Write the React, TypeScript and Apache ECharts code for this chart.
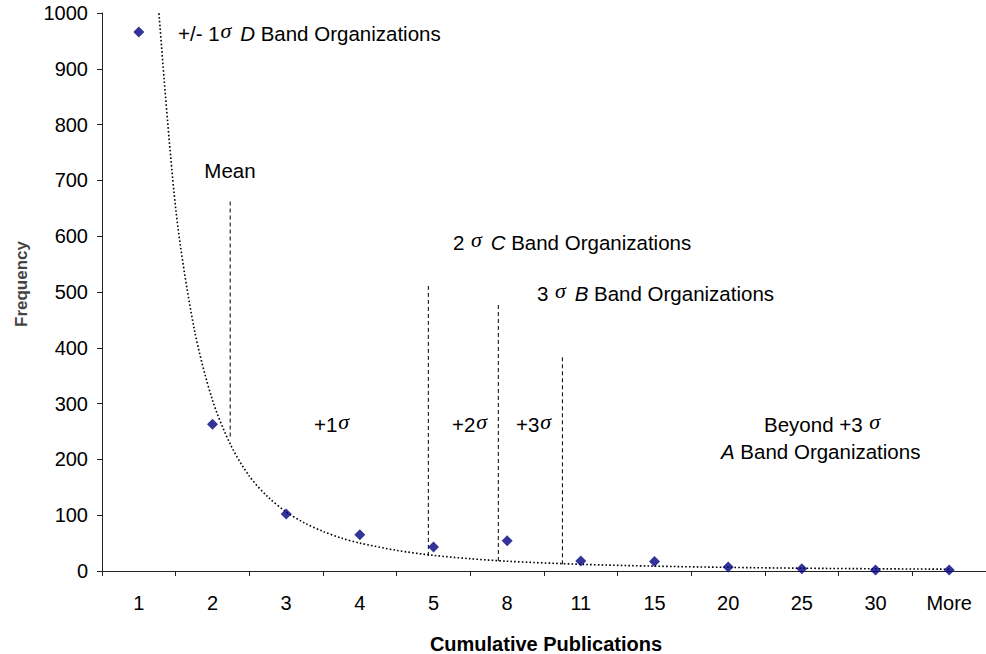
import React, { useEffect, useRef } from "react";
import * as echarts from "echarts";

const categories = ["1", "2", "3", "4", "5", "8", "11", "15", "20", "25", "30", "More"];
const frequency = [966, 263, 102, 65, 43, 54, 18, 17, 7, 4, 2, 2];

// dotted trend curve (category index -> frequency)
const trendX = [1.25, 1.5, 1.75, 2, 2.25, 2.5, 2.75, 3, 3.25, 3.5, 3.75, 4, 4.5, 5, 5.5, 6, 7, 8, 9, 10, 11, 12];
const trendY = [1040, 650, 435, 306, 225, 170, 133, 106, 86, 71, 59, 50, 37, 28, 22, 17.5, 12, 8.7, 6.5, 5, 4, 3.2];

// dashed boundary markers: position (category index), bottom value, top value
const markerNames = ["Mean", "+1σ", "+2σ", "+3σ"];
const markerX = [2.24, 4.93, 5.88, 6.75];
const markerBottom = [241, 27, 18, 12];
const markerTop = [662, 512, 477, 384];

const yMin = 0;
const yMax = 1000;
const yInterval = 100;

const FONT = "'Liberation Sans', Arial, Helvetica, sans-serif";
const SERIF = "'Liberation Serif', 'Times New Roman', serif";
const FS = 20;
const AFS = 20.5;

const rich = {
  n: { fontSize: AFS, fontFamily: FONT, lineHeight: 28, color: "#000" },
  i: { fontSize: AFS, fontFamily: FONT, fontStyle: "italic", lineHeight: 28, color: "#000" },
  s: {
    fontSize: 22,
    fontFamily: SERIF,
    fontStyle: "italic",
    lineHeight: 22,
    verticalAlign: "top",
    padding: [0, 3, 0, 1],
    color: "#000",
  },
};

function label(text: string, x: number, y: number, align: string = "left") {
  return {
    type: "text",
    x,
    y,
    silent: true,
    style: {
      text,
      rich,
      align,
      textAlign: align,
      verticalAlign: "middle",
      textVerticalAlign: "middle",
      font: `${AFS}px ${FONT}`,
      fill: "#000",
    },
  };
}

export default function App() {
  const ref = useRef<HTMLDivElement>(null);
  useEffect(() => {
    if (!ref.current) return;
    const chart = echarts.init(ref.current, null, { renderer: "svg" });

    const markerSeries = markerNames.map((name, k) => ({
      name,
      type: "line",
      xAxisIndex: 1,
      yAxisIndex: 0,
      symbol: "none",
      silent: true,
      data: [
        [markerX[k], markerBottom[k]],
        [markerX[k], markerTop[k]],
      ],
      lineStyle: { color: "#000", width: 1, type: [4, 3] },
      z: 3,
    }));

    chart.setOption({
      animation: false,
      backgroundColor: "#fff",
      grid: { left: 102, right: -5, top: 13, bottom: 83, containLabel: false },
      xAxis: [
        {
          type: "category",
          data: categories,
          boundaryGap: true,
          axisLine: { show: true, lineStyle: { color: "#222", width: 1 } },
          axisTick: { show: true, alignWithLabel: false, length: 5, lineStyle: { color: "#222" } },
          axisLabel: { color: "#000", fontSize: FS, fontFamily: FONT, margin: 22 },
          splitLine: { show: false },
        },
        {
          type: "value",
          min: 0.5,
          max: 12.5,
          show: false,
          splitLine: { show: false },
        },
      ],
      yAxis: {
        type: "value",
        min: yMin,
        max: yMax,
        interval: yInterval,
        axisLine: { show: true, lineStyle: { color: "#222", width: 1 } },
        axisTick: { show: true, length: 5, lineStyle: { color: "#222" } },
        axisLabel: {
          color: "#000",
          fontSize: FS,
          fontFamily: FONT,
          margin: 14,
          formatter: (v: number) => String(v),
        },
        splitLine: { show: false },
      },
      series: [
        {
          name: "Trend",
          type: "line",
          xAxisIndex: 1,
          yAxisIndex: 0,
          symbol: "none",
          smooth: 0.3,
          silent: true,
          data: trendX.map((x, k) => [x, trendY[k]]),
          lineStyle: { color: "#000", width: 1.6, type: [1.6, 2.2] },
          z: 2,
        },
        ...markerSeries,
        {
          name: "Frequency",
          type: "scatter",
          xAxisIndex: 0,
          yAxisIndex: 0,
          symbol: "diamond",
          symbolSize: [11, 11],
          data: frequency,
          itemStyle: { color: "#000080" },
          z: 5,
        },
      ],
      graphic: [
        label("{n|+/- 1}{s|σ}{n| }{i|D}{n| Band Organizations}", 178, 33),
        label("{n|Mean}", 230, 170, "center"),
        label("{n|2 }{s|σ}{n| }{i|C}{n| Band Organizations}", 453, 242),
        label("{n|3 }{s|σ}{n| }{i|B}{n| Band Organizations}", 537, 293),
        label("{n|+1}{s|σ}", 314, 424),
        label("{n|+2}{s|σ}", 452, 424),
        label("{n|+3}{s|σ}", 516, 424),
        label("{n|Beyond +3 }{s|σ}", 764, 424),
        label("{i|A}{n| Band Organizations}", 721, 451),
        {
          type: "text",
          x: 546,
          y: 644,
          silent: true,
          style: {
            text: "Cumulative Publications",
            align: "center",
            textAlign: "center",
            verticalAlign: "middle",
            textVerticalAlign: "middle",
            font: `bold 20px ${FONT}`,
            fill: "#000",
          },
        },
        {
          type: "text",
          x: 21,
          y: 284,
          rotation: Math.PI / 2,
          silent: true,
          style: {
            text: "Frequency",
            align: "center",
            textAlign: "center",
            verticalAlign: "middle",
            textVerticalAlign: "middle",
            font: `bold 17px ${FONT}`,
            fill: "#444",
          },
        },
      ],
    });
    return () => chart.dispose();
  }, []);
  return (
    <div
      ref={ref}
      style={{ position: "fixed", left: 0, top: 0, width: 986, height: 654 }}
    />
  );
}
